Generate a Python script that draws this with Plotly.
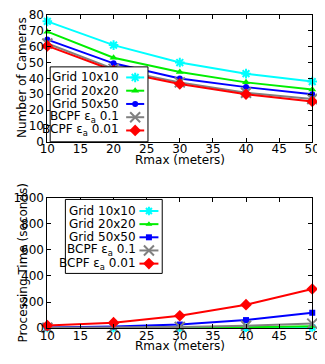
import plotly.graph_objects as go

rmax = [10, 20, 30, 40, 50]
x_ticks = [10, 15, 20, 25, 30, 35, 40, 45, 50]
series_names = ["Grid 10x10", "Grid 20x20", "Grid 50x50",
                "BCPF ε<sub>a</sub> 0.1", "BCPF ε<sub>a</sub> 0.01"]
cameras_grid10 = [76, 61, 50, 43, 38]
cameras_grid20 = [69.5, 53, 44, 37.5, 33]
cameras_grid50 = [64.5, 49.5, 40, 34.5, 30]
cameras_bcpf01 = [62, 46, 37.5, 31, 27]
cameras_bcpf001 = [60.5, 45, 36.5, 30, 25.5]

time_grid10 = [1, 1, 2, 3, 5]
time_grid20 = [1, 2, 4, 8, 15]
time_grid50 = [5, 12, 28, 62, 118]
time_bcpf01 = [3, 6, 10, 18, 35]
time_bcpf001 = [20, 42, 95, 180, 300]

colors = ["#00ffff", "#00ee00", "#0000ff", "#808080", "#ff0000"]
top_symbols = ["asterisk-open", "triangle-up", "circle", "x-thin-open", "diamond"]
bot_symbols = ["asterisk-open", "triangle-up", "square", "x-thin-open", "diamond"]
top_sizes = [8, 7, 6, 10, 9]
bot_sizes = [7, 6, 6, 10, 9]

# page body has an 8px default margin: figure is sized to fill the rest of the window
OFF = 8
WIN_W, WIN_H = 325, 364
W, H = WIN_W - OFF, WIN_H - OFF
FONT = dict(family="DejaVu Sans", size=12, color="black")


def px(x):
    return min(1.0, max(0.0, (x - OFF) / W))


def py(y):
    return min(1.0, max(0.0, 1 - (y - OFF) / H))


top_data = [cameras_grid10, cameras_grid20, cameras_grid50, cameras_bcpf01, cameras_bcpf001]
bot_data = [time_grid10, time_grid20, time_grid50, time_bcpf01, time_bcpf001]

# plot areas in window pixels (left, right, top, bottom)
TOP = (41, 320, 8, 140)
BOT = (41, 320, 198, 334)
# legend boxes in window pixels
LEG_TOP = (44, 147, 62, 140, 119, 124, 143, 73, 13.8)
LEG_BOT = (60, 162, 200, 277, 136, 138, 158, 212, 13.7)


def mk(sym, col, size):
    m = dict(symbol=sym, color=col, size=size)
    if sym.endswith("open"):
        m["line"] = dict(color=col, width=2)
    return m


fig = go.Figure()
for i in range(5):
    fig.add_trace(go.Scatter(
        x=rmax, y=top_data[i], name=series_names[i], mode="lines+markers", showlegend=False,
        line=dict(color=colors[i], width=2), marker=mk(top_symbols[i], colors[i], top_sizes[i]),
        xaxis="x", yaxis="y", cliponaxis=False))
for i in range(5):
    fig.add_trace(go.Scatter(
        x=rmax, y=bot_data[i], name=series_names[i], mode="lines+markers", showlegend=False,
        line=dict(color=colors[i], width=2), marker=mk(bot_symbols[i], colors[i], bot_sizes[i]),
        xaxis="x2", yaxis="y2", cliponaxis=False))

annotations = []
for leg, syms, sizes in [(LEG_TOP, top_symbols, top_sizes), (LEG_BOT, bot_symbols, bot_sizes)]:
    l, r, t, b, tx, s0, s1, row0, step = leg
    fig.add_trace(go.Scatter(x=[l, r, r, l, l], y=[t, t, b, b, t], mode="lines", fill="toself",
                             fillcolor="white", line=dict(color="black", width=1),
                             showlegend=False, hoverinfo="skip", xaxis="x3", yaxis="y3",
                             cliponaxis=False))
    for i in range(5):
        yy = row0 + i * step
        fig.add_trace(go.Scatter(x=[s0, s1], y=[yy, yy], mode="lines",
                                 line=dict(color=colors[i], width=2), showlegend=False,
                                 hoverinfo="skip", xaxis="x3", yaxis="y3", cliponaxis=False))
        fig.add_trace(go.Scatter(x=[(s0 + s1) / 2], y=[yy], mode="markers",
                                 marker=mk(syms[i], colors[i], sizes[i]), showlegend=False,
                                 hoverinfo="skip", xaxis="x3", yaxis="y3", cliponaxis=False))
        annotations.append(dict(text=series_names[i], x=tx, y=yy, xref="x3", yref="y3",
                                xanchor="right", yanchor="middle", showarrow=False, font=FONT))

annotations += [
    dict(text="Rmax (meters)", x=px((TOP[0] + TOP[1]) / 2), y=py(159), xref="paper", yref="paper",
         xanchor="center", yanchor="middle", showarrow=False, font=FONT),
    dict(text="Number of Cameras", x=px(15), y=py(73), xref="paper", yref="paper",
         xanchor="center", yanchor="middle", textangle=-90, showarrow=False, font=FONT),
    dict(text="Rmax (meters)", x=px((BOT[0] + BOT[1]) / 2), y=py(353), xref="paper", yref="paper",
         xanchor="center", yanchor="middle", showarrow=False, font=FONT),
    dict(text="Processing Time (seconds)", x=px(15), y=py((BOT[2] + BOT[3]) / 2), xref="paper",
         yref="paper", xanchor="center", yanchor="middle", textangle=-90, showarrow=False, font=FONT),
]

axcommon = dict(showgrid=False, zeroline=False, showline=True, linecolor="black",
                linewidth=1, mirror="ticks", ticks="inside", ticklen=4,
                tickcolor="black", tickfont=FONT, ticklabeloverflow="allow")

fig.update_layout(
    width=W, height=H, margin=dict(l=0, r=0, t=0, b=0),
    paper_bgcolor="white", plot_bgcolor="rgba(0,0,0,0)", font=FONT, showlegend=False,
    annotations=annotations,
    xaxis=dict(domain=[px(TOP[0]), px(TOP[1])], range=[10, 50], tickvals=x_ticks, anchor="y",
               ticklabelstandoff=-4, **axcommon),
    yaxis=dict(domain=[py(TOP[3]), py(TOP[2])], range=[0, 80], dtick=10, anchor="x", **axcommon),
    xaxis2=dict(domain=[px(BOT[0]), px(BOT[1])], range=[10, 50], tickvals=x_ticks, anchor="y2",
                ticklabelstandoff=-4, **axcommon),
    yaxis2=dict(domain=[py(BOT[3]), py(BOT[2])], range=[0, 1000], dtick=200, anchor="x2", **axcommon),
    xaxis3=dict(domain=[0, 1], range=[OFF, OFF + W], visible=False, anchor="y3", fixedrange=True),
    yaxis3=dict(domain=[0, 1], range=[OFF + H, OFF], visible=False, anchor="x3", fixedrange=True),
)

fig.write_html("out.html")
